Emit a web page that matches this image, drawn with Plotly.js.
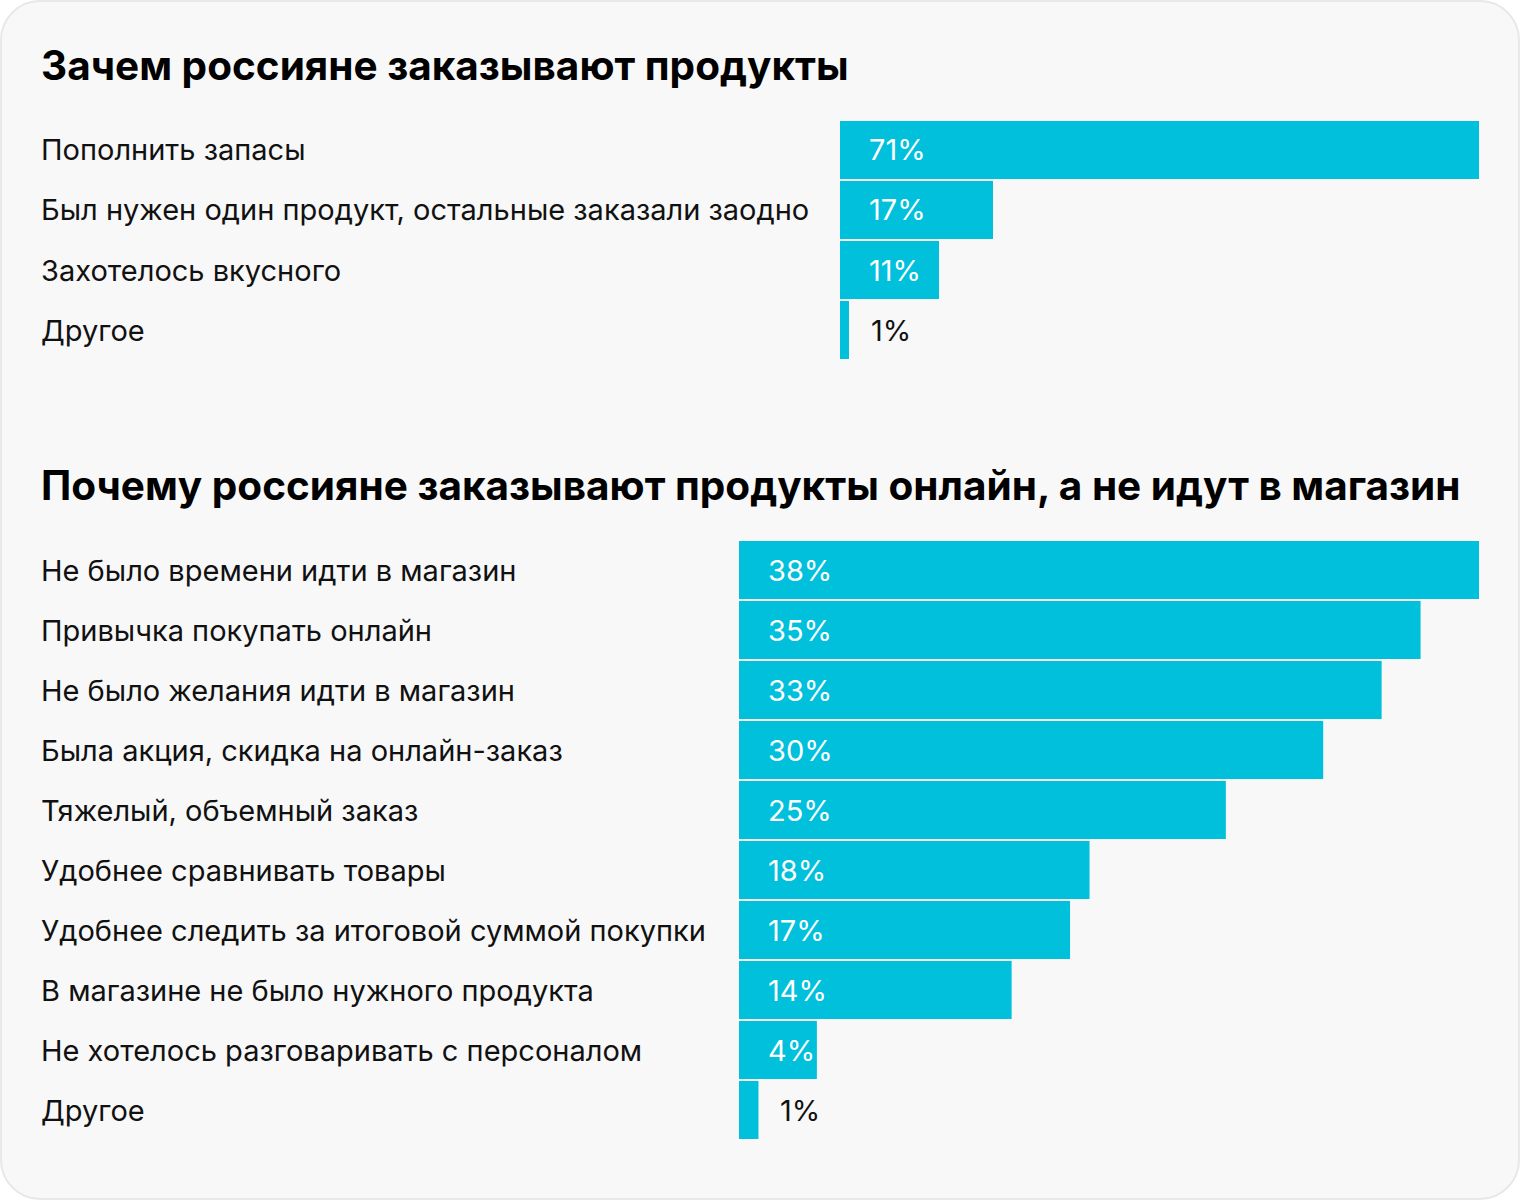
<!DOCTYPE html>
<html>
<head>
<meta charset="utf-8">
<script src="https://cdn.plot.ly/plotly-3.0.1.min.js"></script>
<style>
html,body{margin:0;padding:0;background:#ffffff;}
#card{position:absolute;left:0;top:0;width:1516px;height:1196px;border:2px solid #e8e8e8;border-radius:40px;background:#f8f8f8;overflow:hidden;}
#chart{width:1520px;height:1200px;position:absolute;left:-2px;top:-2px;}
</style>
</head>
<body>
<div id="card"><div id="chart"></div></div>
<script>
const title1 = "Зачем россияне заказывают продукты";
const cats1 = ["Пополнить запасы", "Был нужен один продукт, остальные заказали заодно", "Захотелось вкусного", "Другое"];
const vals1 = [71, 17, 11, 1];

const title2 = "Почему россияне заказывают продукты онлайн, а не идут в магазин";
const cats2 = ["Не было времени идти в магазин", "Привычка покупать онлайн", "Не было желания идти в магазин", "Была акция, скидка на онлайн-заказ", "Тяжелый, объемный заказ", "Удобнее сравнивать товары", "Удобнее следить за итоговой суммой покупки", "В магазине не было нужного продукта", "Не хотелось разговаривать с персоналом", "Другое"];
const vals2 = [38, 35, 33, 30, 25, 18, 17, 14, 4, 1];

const W = 1520, H = 1200;
const barColor = "#00c0dc";
const font = "Inter, Roboto, sans-serif";

const xd1 = [840 / W, 1479 / W], xd2 = [739 / W, 1479 / W];
const yd1 = [1 - 360 / H, 1 - 120 / H], yd2 = [1 - 1140 / H, 1 - 540 / H];

const traces = [
  {type: "bar", orientation: "h", x: vals1, y: cats1, xaxis: "x", yaxis: "y",
   marker: {color: barColor, line: {width: 0}}, hoverinfo: "none"},
  {type: "bar", orientation: "h", x: vals2, y: cats2, xaxis: "x2", yaxis: "y2",
   marker: {color: barColor, line: {width: 0}}, hoverinfo: "none"}
];

const ann = [];
function addTitle(t, ypx) {
  ann.push({text: "<b>" + t + "</b>", xref: "paper", yref: "paper", x: 41 / W, y: 1 - ypx / H,
    xanchor: "left", yanchor: "middle", showarrow: false, xshift: -2,
    font: {family: font, size: 40.5, color: "#000000"}});
}
function addRows(cats, vals, xa, ya, xd, maxv) {
  const pxPer = (xd[1] - xd[0]) * W / maxv;
  cats.forEach((c, i) => {
    ann.push({text: c, xref: "paper", yref: ya, x: 41 / W, y: c, xanchor: "left", yanchor: "middle",
      showarrow: false, xshift: -2, font: {family: font, size: 29, color: "#111111"}});
    const inside = vals[i] * pxPer > 60;
    ann.push({text: vals[i] + "%", xref: xa, yref: ya, x: inside ? 0 : vals[i], y: c,
      xanchor: "left", yanchor: "middle", xshift: inside ? 27 : 20, showarrow: false,
      font: {family: font, size: 29, color: inside ? "#ffffff" : "#111111"}});
  });
}
addTitle(title1, 65);
addTitle(title2, 485);
addRows(cats1, vals1, "x", "y", xd1, Math.max(...vals1));
addRows(cats2, vals2, "x2", "y2", xd2, Math.max(...vals2));

const layout = {
  width: W, height: H,
  margin: {l: 0, r: 0, t: 0, b: 0, pad: 0},
  paper_bgcolor: "rgba(0,0,0,0)", plot_bgcolor: "rgba(0,0,0,0)",
  showlegend: false, bargap: 0.034,
  xaxis: {domain: xd1, range: [0, Math.max(...vals1)], visible: false, fixedrange: true},
  yaxis: {domain: yd1, type: "category", categoryorder: "array", categoryarray: cats1, autorange: "reversed", visible: false, fixedrange: true},
  xaxis2: {domain: xd2, range: [0, Math.max(...vals2)], visible: false, anchor: "y2", fixedrange: true},
  yaxis2: {domain: yd2, type: "category", categoryorder: "array", categoryarray: cats2, autorange: "reversed", visible: false, anchor: "x2", fixedrange: true},
  annotations: ann,
  font: {family: font}
};
Plotly.newPlot("chart", traces, layout, {displayModeBar: false, staticPlot: true});
</script>
</body>
</html>
